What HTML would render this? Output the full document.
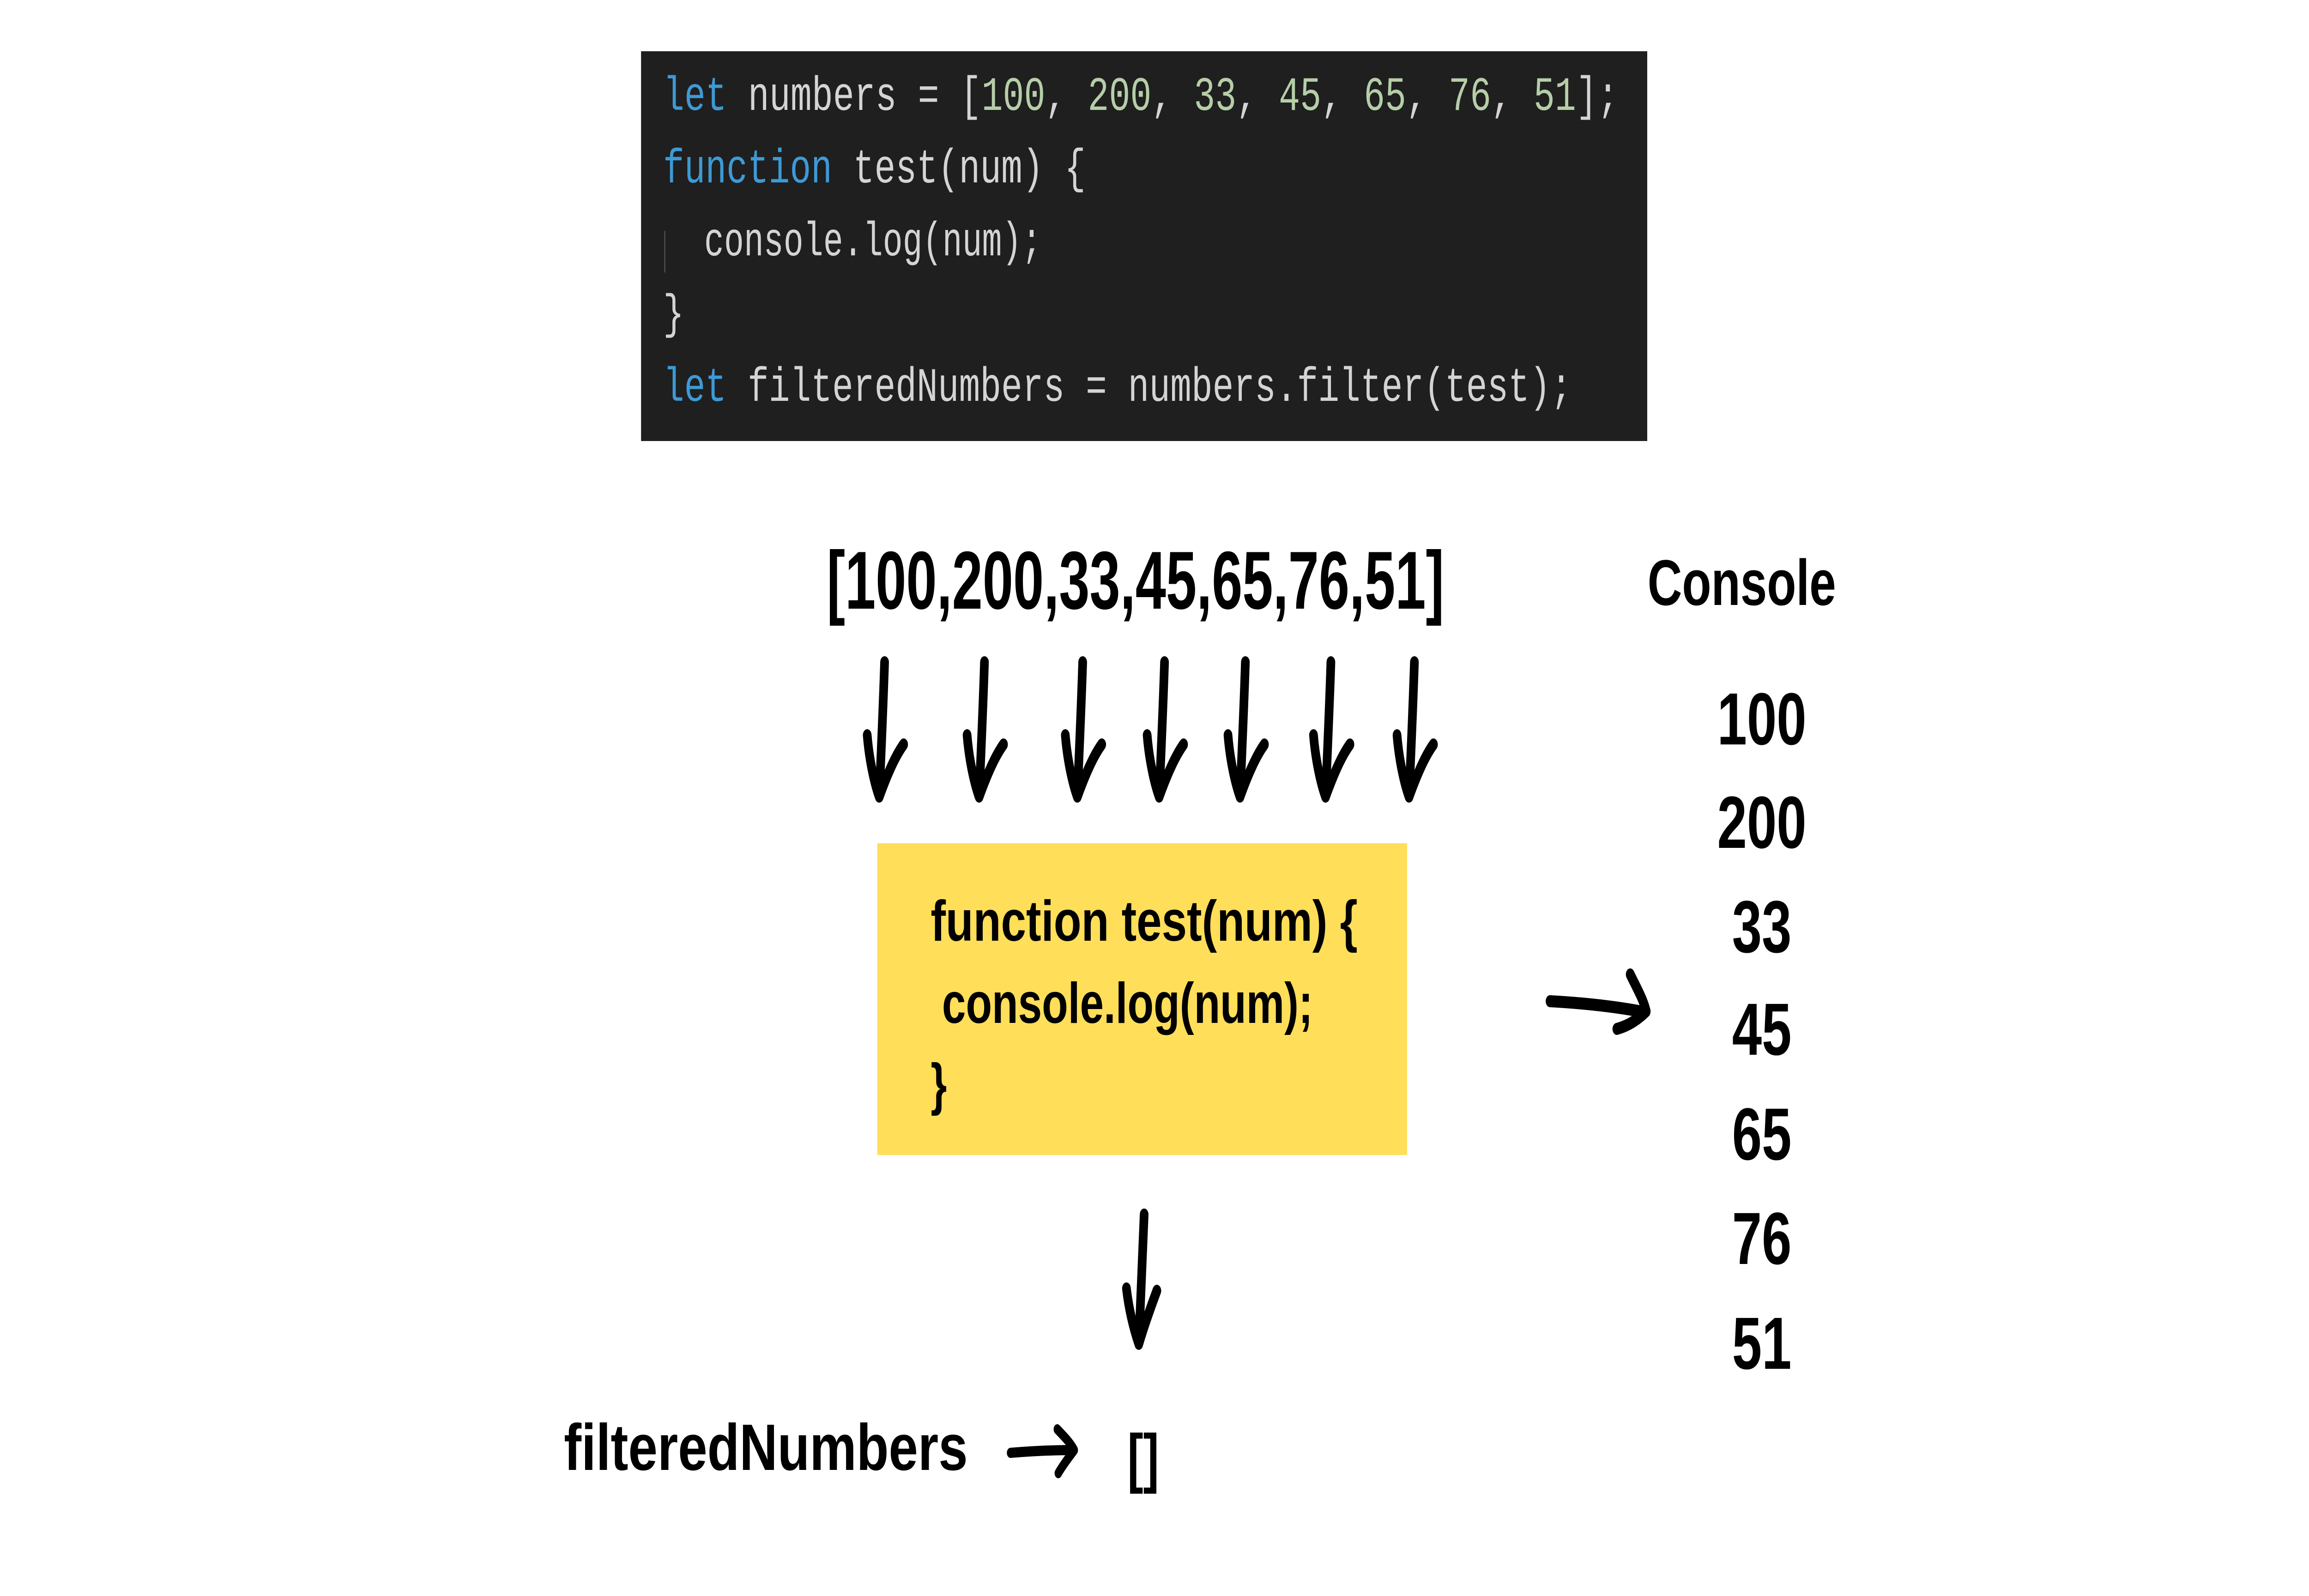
<!DOCTYPE html>
<html><head><meta charset="utf-8"><style>
html,body{margin:0;padding:0;background:#fff;width:100%;height:100%;overflow:hidden;}
svg{display:block;position:absolute;left:0;top:0;width:100vw;height:100vh;}
</style></head><body>
<svg viewBox="0 0 6912 3456" preserveAspectRatio="none" xmlns="http://www.w3.org/2000/svg">
<rect width="6912" height="3456" fill="#fff"/>
<!-- code block -->
<rect x="1919" y="111" width="3012" height="844" fill="#1f1f1f"/>
<line x1="1990" y1="500" x2="1990" y2="590" stroke="#555" stroke-width="3"/>
<g font-family="Liberation Mono, monospace" font-size="104" fill="#d4d4d4">
<text x="1985" y="238" textLength="2860" lengthAdjust="spacingAndGlyphs"><tspan fill="#3d9ad6">let</tspan> numbers = [<tspan fill="#b5cea8">100</tspan>, <tspan fill="#b5cea8">200</tspan>, <tspan fill="#b5cea8">33</tspan>, <tspan fill="#b5cea8">45</tspan>, <tspan fill="#b5cea8">65</tspan>, <tspan fill="#b5cea8">76</tspan>, <tspan fill="#b5cea8">51</tspan>];</text>
<text x="1985" y="395" textLength="1265" lengthAdjust="spacingAndGlyphs"><tspan fill="#3d9ad6">function</tspan> test(num) {</text>
<text x="2108" y="553" textLength="1010" lengthAdjust="spacingAndGlyphs">console.log(num);</text>
<text x="1985" y="710">}</text>
<text x="1985" y="868" textLength="2720" lengthAdjust="spacingAndGlyphs"><tspan fill="#3d9ad6">let</tspan> filteredNumbers = numbers.filter(test);</text>
</g>
<!-- array -->
<g font-family="Liberation Sans, sans-serif" font-weight="bold" fill="#000">
<text x="2475" y="1318" font-size="178" textLength="1848" lengthAdjust="spacingAndGlyphs">[100,200,33,45,65,76,51]</text>
<text x="4932" y="1310" font-size="140" textLength="564" lengthAdjust="spacingAndGlyphs">Console</text>
<g font-size="160" text-anchor="middle">
<text x="5274" y="1612">100</text>
<text x="5274" y="1836">200</text>
<text x="5274" y="2062">33</text>
<text x="5274" y="2284">45</text>
<text x="5274" y="2511">65</text>
<text x="5274" y="2737">76</text>
<text x="5274" y="2964">51</text>
</g>
</g>
<!-- arrows -->
<defs>
<g id="ar">
<path d="M16,-291 C12,-200 6,-100 0,0 M-36,-133 C-30,-80 -15,-30 0,0 C20,-40 45,-85 73,-113" fill="none" stroke="#000" stroke-width="26" stroke-linecap="round" stroke-linejoin="round"/>
</g>
</defs>
<use href="#ar" x="2632" y="1725"/>
<use href="#ar" x="2931" y="1725"/>
<use href="#ar" x="3225" y="1725"/>
<use href="#ar" x="3470" y="1725"/>
<use href="#ar" x="3712" y="1725"/>
<use href="#ar" x="3968" y="1725"/>
<use href="#ar" x="4218" y="1725"/>
<!-- yellow box -->
<rect x="2626" y="1826" width="1586" height="675" fill="#ffde59"/>
<g font-family="Liberation Sans, sans-serif" font-weight="bold" font-size="124" fill="#000">
<text x="2786" y="2037" textLength="1278" lengthAdjust="spacingAndGlyphs">function test(num) {</text>
<text x="2820" y="2215" textLength="1110" lengthAdjust="spacingAndGlyphs">console.log(num);</text>
<text x="2786" y="2390">}</text>
</g>
<!-- right arrow -->
<path d="M4640,2168 C4740,2172 4840,2180 4925,2192 M4880,2110 C4900,2140 4920,2165 4928,2190 C4900,2210 4870,2222 4840,2228" fill="none" stroke="#000" stroke-width="26" stroke-linecap="round" stroke-linejoin="round"/>
<!-- down arrow -->
<path d="M3425,2630 C3420,2720 3414,2820 3409,2910 M3372,2790 C3380,2840 3395,2880 3409,2910 C3425,2870 3445,2830 3463,2795" fill="none" stroke="#000" stroke-width="26" stroke-linecap="round" stroke-linejoin="round"/>
<!-- filteredNumbers -->
<g font-family="Liberation Sans, sans-serif" font-weight="bold" fill="#000">
<text x="1688" y="3183" font-size="142" textLength="1209" lengthAdjust="spacingAndGlyphs">filteredNumbers</text>
<text x="3375" y="3205" font-size="142">[]</text>
</g>
<path d="M3025,3146 C3090,3142 3150,3140 3215,3140 M3165,3095 C3185,3110 3205,3125 3216,3140 C3195,3160 3180,3175 3168,3190" fill="none" stroke="#000" stroke-width="22" stroke-linecap="round" stroke-linejoin="round"/>
</svg>
</body></html>
